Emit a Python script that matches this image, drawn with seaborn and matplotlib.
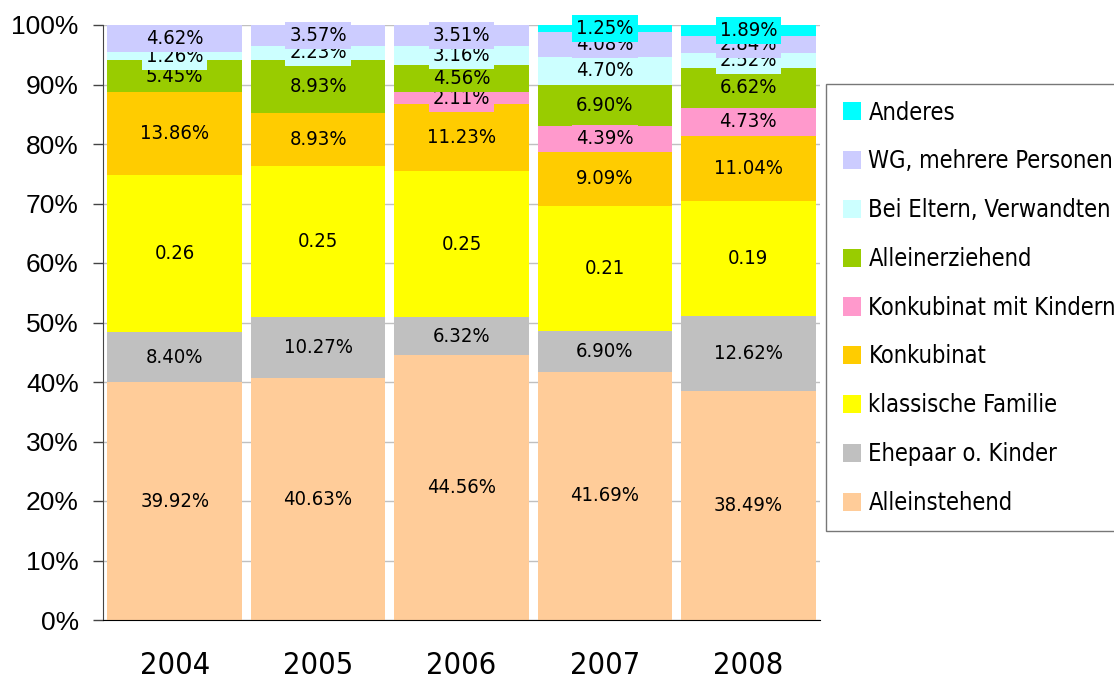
import matplotlib
matplotlib.use("Agg")
import numpy as np
import pandas as pd
import seaborn as sns
import matplotlib.pyplot as plt
from matplotlib.patches import Patch
from matplotlib.font_manager import FontProperties

years = ["2004", "2005", "2006", "2007", "2008"]

# stacking order, bottom to top
categories = ["Alleinstehend", "Ehepaar o. Kinder", "klassische Familie", "Konkubinat",
              "Konkubinat mit Kindern", "Alleinerziehend", "Bei Eltern, Verwandten",
              "WG, mehrere Personen", "Anderes"]

alleinstehend = [39.92, 40.63, 44.56, 41.69, 38.49]
ehepaar = [8.40, 10.27, 6.32, 6.90, 12.62]
klassisch = [26.49, 25.44, 24.55, 21.00, 19.25]
konkubinat = [13.86, 8.93, 11.23, 9.09, 11.04]
konk_kinder = [0.0, 0.0, 2.11, 4.39, 4.73]
alleinerz = [5.45, 8.93, 4.56, 6.90, 6.62]
eltern = [1.26, 2.23, 3.16, 4.70, 2.52]
wg = [4.62, 3.57, 3.51, 4.08, 2.84]
anderes = [0.0, 0.0, 0.0, 1.25, 1.89]

series = [alleinstehend, ehepaar, klassisch, konkubinat, konk_kinder,
          alleinerz, eltern, wg, anderes]

colors = ["#FFCC99", "#C0C0C0", "#FFFF00", "#FFCC00", "#FF99CC",
          "#99CC00", "#CCFFFF", "#CCCCFF", "#00FFFF"]

sns.set_style("white")
plt.rcParams["font.family"] = ["Liberation Sans", "DejaVu Sans"]
plt.rcParams["text.color"] = "black"
plt.rcParams["xtick.color"] = "black"
plt.rcParams["ytick.color"] = "black"


def narrow(size):
    return FontProperties(family="DejaVu Sans", stretch="condensed", size=size)


fig = plt.figure(figsize=(11.14, 6.84), dpi=100)
ax = fig.add_axes([103 / 1114, 64 / 684, 717 / 1114, 595 / 684])

bottom = np.zeros(len(years))
for cat, vals, col in zip(categories, series, colors):
    vals = np.array(vals)
    df = pd.DataFrame({"Jahr": years, "Anteil": vals})
    sns.barplot(data=df, x="Jahr", y="Anteil", bottom=bottom, color=col,
                width=0.94, saturation=1, linewidth=0, ax=ax, zorder=2)
    for i, v in enumerate(vals):
        if v <= 0:
            continue
        if cat == "klassische Familie":
            txt = f"{v / 100:.2f}"
        else:
            txt = f"{v:.2f}%"
        ax.text(i, bottom[i] + v / 2, txt, ha="center", va="center",
                fontproperties=narrow(14.5), zorder=5,
                bbox=dict(boxstyle="square,pad=0.2", fc=col, ec="none"))
    bottom = bottom + vals

ax.set_xlim(-0.5, len(years) - 0.5)
ax.set_ylim(0, 100)
ax.set_yticks(np.arange(0, 101, 10))
ax.set_yticklabels([f"{t}%" for t in range(0, 101, 10)], fontsize=19)
ax.set_xlabel("")
ax.set_ylabel("")
ax.yaxis.grid(True, color="#C0C0C0", linewidth=1, zorder=0)
ax.set_axisbelow(True)

ax.set_xticks(np.arange(len(years)))
ax.set_xticklabels(years)
for lab in ax.get_xticklabels():
    lab.set_fontproperties(narrow(22))
ax.set_xticks(np.arange(-0.5, len(years)), minor=True)
ax.tick_params(axis="x", which="major", length=0, pad=22)
ax.tick_params(axis="x", which="minor", length=10, width=1, color="black", direction="out")
ax.tick_params(axis="y", length=7.5, width=1, color="#444444", direction="out", left=True, pad=10)

for s in ["top", "right"]:
    ax.spines[s].set_visible(False)
ax.spines["left"].set_color("#444444")
ax.spines["bottom"].set_color("black")

handles = [Patch(facecolor=c, edgecolor="none") for c in colors[::-1]]
leg = fig.legend(handles, categories[::-1], loc="upper left",
                 bbox_to_anchor=(826 / 1114, 1 - 84 / 684), frameon=True,
                 fancybox=False, edgecolor="#555555", prop=narrow(17),
                 handlelength=0.8, handleheight=0.8, handletextpad=0.3,
                 labelspacing=1.05, borderpad=0.7, borderaxespad=0)
leg.get_frame().set_linewidth(1)

fig.savefig("out.png", dpi=100)
